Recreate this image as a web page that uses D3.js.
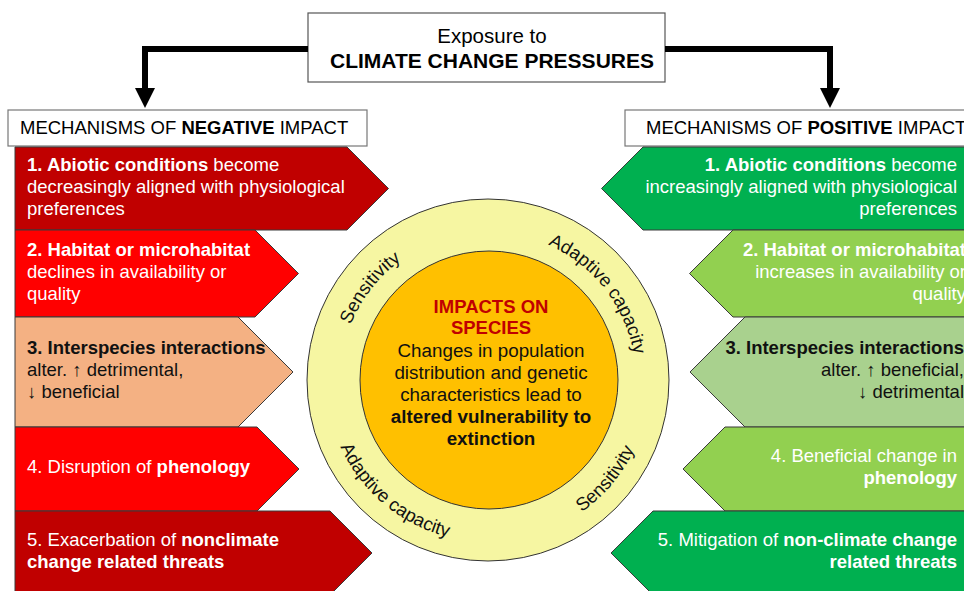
<!DOCTYPE html>
<html>
<head>
<meta charset="utf-8">
<script src="https://cdn.jsdelivr.net/npm/d3@7"></script>
<style>
  body { margin: 0; background: #fff; }
  svg { display: block; font-family: "Liberation Sans", Arial, Helvetica, sans-serif; }
</style>
</head>
<body>
<script>
// ---- content ----
const topTitle = ["Exposure to", "**CLIMATE CHANGE PRESSURES**"];
const headers = ["MECHANISMS OF **NEGATIVE** IMPACT", "MECHANISMS OF **POSITIVE** IMPACT"];

const negativeMechanisms = [
  "**1. Abiotic conditions** become|decreasingly aligned with physiological|preferences",
  "**2. Habitat or microhabitat**|declines in availability or|quality",
  "**3. Interspecies interactions**|alter. ↑ detrimental,|↓ beneficial",
  "4. Disruption of **phenology**",
  "5. Exacerbation of **nonclimate**|**change related threats**"
];
const positiveMechanisms = [
  "**1. Abiotic conditions** become|increasingly aligned with physiological|preferences",
  "**2. Habitat or microhabitat**|increases in availability or|quality",
  "**3. Interspecies interactions**|alter. ↑ beneficial,|↓ detrimental",
  "4. Beneficial change in|**phenology**",
  "5. Mitigation of **non-climate change**|**related threats**"
];

const centerTitle = ["IMPACTS ON", "SPECIES"];
const centerBody = ["Changes in population", "distribution and genetic", "characteristics lead to",
  "**altered vulnerability to**", "**extinction**"];

const ringLabels = ["Sensitivity", "Adaptive capacity", "Sensitivity", "Adaptive capacity"];

// ---- styles / layout ----
const negColors = ["#c00000", "#ff0000", "#f4b183", "#ff0000", "#c00000"];
const posColors = ["#00b050", "#92d050", "#a9d18e", "#92d050", "#00b050"];
const darkText = [false, false, true, false, false];

const rowEdges = [147, 230, 317, 427, 511, 595];
const negBodyRight = [347, 255, 238, 257, 330];
const posBodyLeft = [643, 733, 745, 725, 653];
const posTextRight = [957, 966, 964, 957, 957];
const ringAngles = [-52, 52, 130, 220];

const W = 964, H = 591;
const cx = 488, cy = 380;
const fs = 18.5;

const svg = d3.select("body").append("svg")
  .attr("width", W)
  .attr("height", H);

// split "**bold** normal" into segments
function segments(str) {
  return str.split("**").map((s, i) => ({ t: s, b: i % 2 === 1 })).filter(d => d.t.length);
}

function addLine(g, str, x, y, anchor, size, fill) {
  const t = g.append("text")
    .attr("x", x)
    .attr("y", y)
    .attr("text-anchor", anchor)
    .attr("font-size", size)
    .attr("fill", fill);
  t.selectAll("tspan")
    .data(segments(str))
    .join("tspan")
    .attr("font-weight", d => d.b ? "bold" : "normal")
    .text(d => d.t);
  return t;
}

// ---- top box + arrows ----
svg.append("rect")
  .attr("x", 308).attr("y", 13)
  .attr("width", 357).attr("height", 69)
  .attr("fill", "#fff")
  .attr("stroke", "#555")
  .attr("stroke-width", 1.2);

addLine(svg, topTitle[0], 492, 43, "middle", 20.5, "#000");
addLine(svg, topTitle[1], 492, 68, "middle", 21, "#000");

const elbow = d3.line();
[[308, 145], [665, 830]].forEach(([x0, x1]) => {
  svg.append("path")
    .attr("d", elbow([[x0, 49], [x1, 49], [x1, 90]]))
    .attr("fill", "none")
    .attr("stroke", "#000")
    .attr("stroke-width", 6);
  svg.append("path")
    .attr("d", elbow([[x1 - 10, 88], [x1 + 10, 88], [x1, 108]]) + "Z")
    .attr("fill", "#000");
});

// ---- header boxes ----
[[8, 359, 20], [625, 360, 646]].forEach(([x, w, tx], i) => {
  svg.append("rect")
    .attr("x", x).attr("y", 110)
    .attr("width", w).attr("height", 36)
    .attr("fill", "#fff")
    .attr("stroke", "#777")
    .attr("stroke-width", 1.2);
  addLine(svg, headers[i], tx, 134, "start", fs, "#000");
});

// ---- mechanism arrows ----
const pent = d3.line();
const lineGap = 22;

negativeMechanisms.forEach((str, i) => {
  const y0 = rowEdges[i], y1 = rowEdges[i + 1], h = y1 - y0, mid = (y0 + y1) / 2;
  const bx = negBodyRight[i];
  svg.append("path")
    .attr("d", pent([[15, y0], [bx, y0], [bx + h / 2, mid], [bx, y1], [15, y1]]) + "Z")
    .attr("fill", negColors[i])
    .attr("stroke", "#3a3a3a")
    .attr("stroke-width", 1);
  const lines = str.split("|");
  lines.forEach((l, j) => {
    addLine(svg, l, 27, mid + (j - (lines.length - 1) / 2) * lineGap + 4, "start", fs,
      darkText[i] ? "#111" : "#fff");
  });
});

positiveMechanisms.forEach((str, i) => {
  const y0 = rowEdges[i], y1 = rowEdges[i + 1], h = y1 - y0, mid = (y0 + y1) / 2;
  const bx = posBodyLeft[i];
  svg.append("path")
    .attr("d", pent([[975, y0], [bx, y0], [bx - h / 2, mid], [bx, y1], [975, y1]]) + "Z")
    .attr("fill", posColors[i])
    .attr("stroke", "#3a3a3a")
    .attr("stroke-width", 1);
  const lines = str.split("|");
  lines.forEach((l, j) => {
    addLine(svg, l, posTextRight[i], mid + (j - (lines.length - 1) / 2) * lineGap + 4, "end", fs,
      darkText[i] ? "#111" : "#fff");
  });
});

// ---- central circles ----
svg.append("circle")
  .attr("cx", cx).attr("cy", cy).attr("r", 181)
  .attr("fill", "#f6f6a2")
  .attr("stroke", "#333")
  .attr("stroke-width", 1);
svg.append("circle")
  .attr("cx", cx + 1).attr("cy", cy).attr("r", 129)
  .attr("fill", "#ffc000")
  .attr("stroke", "#333")
  .attr("stroke-width", 1);

// ring labels on arcs
function pt(r, a) {
  const t = a * Math.PI / 180;
  return [cx + r * Math.sin(t), cy - r * Math.cos(t)];
}
const defs = svg.append("defs");
ringLabels.forEach((label, i) => {
  const c = ringAngles[i];
  const upper = c > -90 && c < 90;
  const r = upper ? 148 : 162;
  const a0 = upper ? c - 70 : c + 70;
  const a1 = upper ? c + 70 : c - 70;
  const p0 = pt(r, a0), p1 = pt(r, a1);
  defs.append("path")
    .attr("id", "ring" + i)
    .attr("d", `M${p0[0]},${p0[1]} A${r},${r} 0 0 ${upper ? 1 : 0} ${p1[0]},${p1[1]}`);
  svg.append("text")
    .attr("font-size", fs)
    .attr("fill", "#111")
    .append("textPath")
    .attr("href", "#ring" + i)
    .attr("startOffset", "50%")
    .attr("text-anchor", "middle")
    .text(label);
});

// center text
centerTitle.forEach((s, i) => {
  svg.append("text")
    .attr("x", 491).attr("y", 313 + i * 21)
    .attr("text-anchor", "middle")
    .attr("font-size", fs)
    .attr("font-weight", "bold")
    .attr("fill", "#c00000")
    .text(s);
});
centerBody.forEach((s, i) => addLine(svg, s, 491, 357 + i * 22, "middle", 18.8, "#111"));
</script>
</body>
</html>
